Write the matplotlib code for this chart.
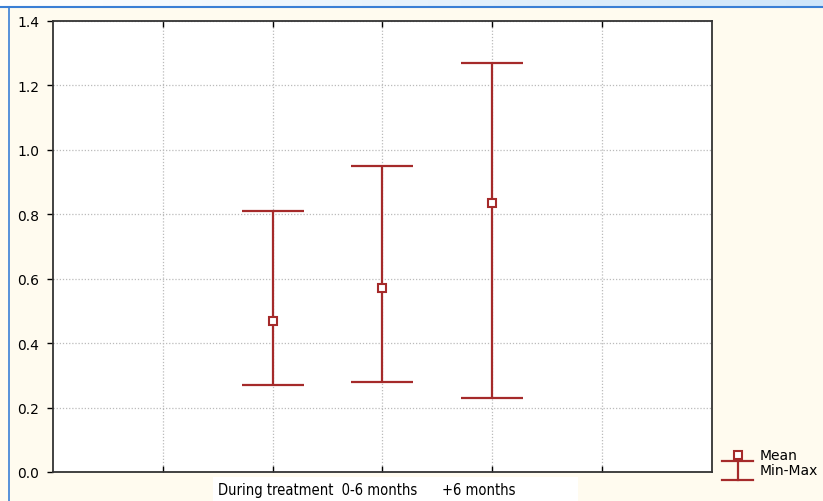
import numpy as np
import matplotlib
matplotlib.use('Agg')
from matplotlib import pyplot as plt
from matplotlib import transforms
from matplotlib.patches import Rectangle
from matplotlib.lines import Line2D

# -------------------------------
# Summary values per period
# -------------------------------
periods = ['During treatment', '0-6 months', '+6 months']
positions = [2, 3, 4]
means = [0.47, 0.57, 0.835]
mins = [0.27, 0.28, 0.23]
maxs = [0.81, 0.95, 1.27]
y_ticks = [0.0, 0.2, 0.4, 0.6, 0.8, 1.0, 1.2, 1.4]

red = '#a52a2a'
cream = '#fffbef'

plt.rcParams['font.family'] = ['DejaVu Sans']

fig = plt.figure(figsize=(8.23, 5.02), dpi=100)
fig.patch.set_facecolor(cream)

# window-style top strip and left border
top_strip = np.linspace(0, 1, 200).reshape(1, -1)
ax_bg = fig.add_axes([0, 0.986, 1, 0.014])
ax_bg.imshow(top_strip, aspect='auto', cmap=matplotlib.colors.LinearSegmentedColormap.from_list(
    'hdr', ['#ffffff', '#cfe6fa']), extent=[0, 1, 0, 1])
ax_bg.axis('off')
fig.add_artist(Line2D([0, 1], [0.985, 0.985], color='#3a7fd5', lw=1.5, transform=fig.transFigure))
fig.add_artist(Line2D([0.011, 0.011], [0, 0.985], color='#3a7fd5', lw=1.2, transform=fig.transFigure))

ax = fig.add_axes([0.0644, 0.0578, 0.8007, 0.8984])
ax.set_facecolor('white')

lower = np.array(means) - np.array(mins)
upper = np.array(maxs) - np.array(means)
ax.errorbar(positions, means, yerr=[lower, upper], fmt='none', ecolor=red,
            elinewidth=1.6, capsize=22, capthick=1.6, zorder=3)
ax.plot(positions, means, linestyle='none', marker='s', markersize=6,
        markerfacecolor='white', markeredgecolor=red, markeredgewidth=1.5, zorder=4)

ax.set_xlim(0, 6)
ax.set_ylim(0, 1.4)
ax.set_xticks([1, 2, 3, 4, 5])
ax.set_xticklabels([])
ax.set_yticks(y_ticks)
ax.set_yticklabels([f'{v:.1f}' for v in y_ticks], fontsize=10)
ax.tick_params(axis='x', direction='in', length=4, width=1, top=True)
ax.tick_params(axis='y', direction='out', length=4, width=1, pad=6)
ax.grid(True, color='#bbbbbb', linestyle=(0, (1, 1.5)), linewidth=0.9)
for s in ax.spines.values():
    s.set_linewidth(1.3)
    s.set_color('#333333')

# category labels written as one line under the axis
trans = transforms.blended_transform_factory(ax.transData, fig.transFigure)
fig.patches.append(Rectangle((0.259, 0.0), 0.443, 0.047, transform=fig.transFigure,
                             facecolor='white', edgecolor='none', zorder=-1))
fig.text(1.5, 0.008, '  '.join(periods[:2]) + '      ' + periods[2], transform=trans,
         ha='left', va='bottom', fontsize=10.5, fontstretch='condensed',
         family=['DejaVu Sans'])

# legend: mean marker and min-max bar
fx = 738 / 823
fig.add_artist(Line2D([fx], [1 - 456 / 502], linestyle='none', marker='s', markersize=6,
                      markerfacecolor='white', markeredgecolor=red, markeredgewidth=1.5,
                      transform=fig.transFigure))
y_top, y_bot = 1 - 462 / 502, 1 - 481 / 502
fig.add_artist(Line2D([fx, fx], [y_top, y_bot], color=red, lw=1.6, transform=fig.transFigure))
for yy in (y_top, y_bot):
    fig.add_artist(Line2D([722 / 823, 753 / 823], [yy, yy], color=red, lw=1.6,
                          transform=fig.transFigure))
fig.text(760 / 823, 1 - 456 / 502, 'Mean', fontsize=10, va='center')
fig.text(760 / 823, 1 - 471 / 502, 'Min-Max', fontsize=10, va='center')

plt.savefig('out.png', dpi=100, facecolor=fig.get_facecolor())
plt.close()
